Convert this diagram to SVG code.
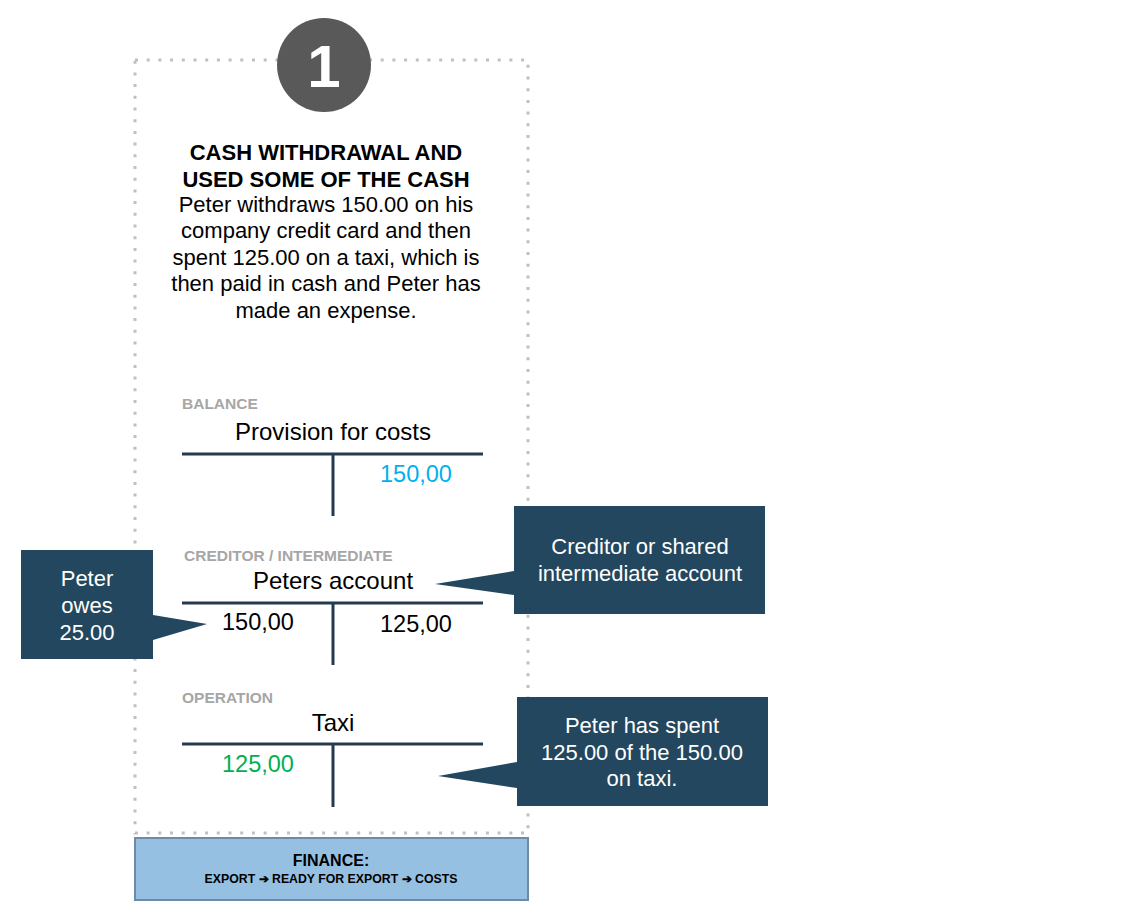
<svg xmlns="http://www.w3.org/2000/svg" width="1134" height="907" viewBox="0 0 1134 907">
<style>
text{font-family:"Liberation Sans",Arial,sans-serif;}
.t{font-size:22px;fill:#000;text-anchor:middle;}
.b{font-weight:bold;}
.lbl{font-size:15.5px;font-weight:bold;fill:#a6a6a6;}
.acc{font-size:24px;fill:#000;text-anchor:middle;}
.num{font-size:23.5px;text-anchor:middle;}
.tl{stroke:#243b4f;stroke-width:3;fill:none;}
.call{fill:#22475e;}
.ct{font-size:22px;fill:#fff;text-anchor:middle;}
</style>
<rect width="1134" height="907" fill="#fff"/>
<g id="frame">
<path d="M135 60 H528 V833 H135 Z" fill="none" stroke="#c0c0c0" stroke-width="3" stroke-dasharray="3 8.7"/>
</g>
<g id="badge">
<circle cx="324" cy="65" r="47" fill="#595959"/>
<text x="324" y="87" font-size="60" font-weight="bold" fill="#fff" text-anchor="middle">1</text>
</g>
<g id="title">
<text class="t b" x="326" y="160">CASH WITHDRAWAL AND</text>
<text class="t b" x="326" y="187">USED SOME OF THE CASH</text>
<text class="t" x="326" y="212">Peter withdraws 150.00 on his</text>
<text class="t" x="326" y="238">company credit card and then</text>
<text class="t" x="326" y="265">spent 125.00 on a taxi, which is</text>
<text class="t" x="326" y="291">then paid in cash and Peter has</text>
<text class="t" x="326" y="318">made an expense.</text>
</g>
<g id="balance">
<text class="lbl" x="182" y="409">BALANCE</text>
<text class="acc" x="333" y="440">Provision for costs</text>
<path class="tl" d="M182 454 H483 M333 454 V516"/>
<text class="num" x="416" y="482" fill="#00b0f0">150,00</text>
</g>
<g id="creditor">
<text class="lbl" x="184" y="561">CREDITOR / INTERMEDIATE</text>
<text class="acc" x="333" y="589">Peters account</text>
<path class="tl" d="M182 603 H483 M333 603 V665"/>
<text class="num" x="258" y="630" fill="#000">150,00</text>
<text class="num" x="416" y="632" fill="#000">125,00</text>
</g>
<g id="operation">
<text class="lbl" x="182" y="703">OPERATION</text>
<text class="acc" x="333" y="731">Taxi</text>
<path class="tl" d="M182 744 H483 M333 744 V807"/>
<text class="num" x="258" y="772" fill="#00b050">125,00</text>
</g>
<g id="finance">
<rect x="135" y="838" width="393" height="62" fill="#95c0e2" stroke="#6d8aa8" stroke-width="2"/>
<text x="331" y="866" font-size="16" font-weight="bold" text-anchor="middle">FINANCE:</text>
<text x="331" y="883" font-size="12.3" font-weight="bold" text-anchor="middle">EXPORT ➔ READY FOR EXPORT ➔ COSTS</text>
</g>
<g id="callout-owes">
<path class="call" d="M21 550 H153 V615 L207 624 L153 640 V659 H21 Z"/>
<text class="ct" x="87" y="586">Peter</text>
<text class="ct" x="87" y="613">owes</text>
<text class="ct" x="87" y="640">25.00</text>
</g>
<g id="callout-creditor">
<path class="call" d="M514 506 H765 V614 H514 V595 L435 584 L514 571 Z"/>
<text class="ct" x="640" y="554">Creditor or shared</text>
<text class="ct" x="640" y="581">intermediate account</text>
</g>
<g id="callout-taxi">
<path class="call" d="M517 697 H768 V806 H517 V788 L438 776 L517 762 Z"/>
<text class="ct" x="642" y="733">Peter has spent</text>
<text class="ct" x="642" y="760">125.00 of the 150.00</text>
<text class="ct" x="642" y="786">on taxi.</text>
</g>
<g id="connectors"></g>
</svg>
